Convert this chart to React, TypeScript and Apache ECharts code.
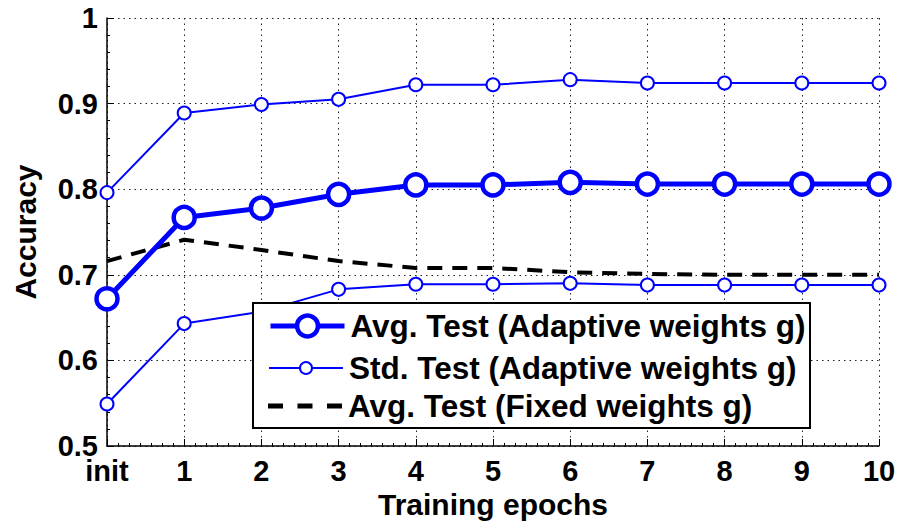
import React, { useEffect, useRef } from "react";
import * as echarts from "echarts";

const epochLabels = ["init", "1", "2", "3", "4", "5", "6", "7", "8", "9", "10"];
const avgAdaptive = [0.672, 0.767, 0.778, 0.794, 0.805, 0.805, 0.808, 0.806, 0.806, 0.806, 0.806];
const stdUpper = [0.796, 0.889, 0.899, 0.905, 0.922, 0.922, 0.928, 0.924, 0.924, 0.924, 0.924];
const stdLower = [0.549, 0.643, 0.657, 0.683, 0.689, 0.689, 0.690, 0.688, 0.688, 0.688, 0.688];
const avgFixed = [0.716, 0.741, 0.729, 0.716, 0.708, 0.708, 0.703, 0.701, 0.700, 0.700, 0.700];

const nameAvg = "Avg. Test (Adaptive weights g)";
const nameStd = "Std. Test (Adaptive weights g)";
const nameFixed = "Avg. Test (Fixed weights g)";

const FONT = "'Liberation Sans', Arial, Helvetica, sans-serif";
const BLUE = "#0000ff";

const toPairs = (arr: number[]) => arr.map((v, i) => [i, v]);

export default function App() {
  const ref = useRef<HTMLDivElement>(null);
  useEffect(() => {
    if (!ref.current) return;
    const chart = echarts.init(ref.current, undefined, { renderer: "svg" });
    const legendText = {
      color: "#000",
      fontFamily: FONT,
      fontWeight: "bold" as const,
      fontSize: 31.5,
      lineHeight: 30,
      padding: [0, 0, 0, 1],
    };
    chart.setOption({
      animation: false,
      backgroundColor: "#fff",
      grid: { left: 107, right: 22, top: 18, bottom: 83, containLabel: false },
      xAxis: {
        type: "value",
        min: 0,
        max: 10,
        interval: 1,
        name: "Training epochs",
        nameLocation: "middle",
        nameGap: 40,
        nameTextStyle: { color: "#000", fontFamily: FONT, fontWeight: "bold", fontSize: 30 },
        axisLine: { show: true, lineStyle: { color: "#000", width: 1.5 } },
        axisTick: { show: true, inside: true, length: 7, lineStyle: { color: "#000", width: 1 } },
        minorTick: { show: true, splitNumber: 7, length: 3, lineStyle: { color: "#000", width: 1 } },
        axisLabel: {
          color: "#000",
          fontFamily: FONT,
          fontWeight: "bold",
          fontSize: 29,
          margin: 10,
          formatter: (v: number) => epochLabels[Math.round(v)] ?? "",
        },
        splitLine: { show: true, lineStyle: { color: "#222", width: 1, type: [1.5, 4] } },
      },
      yAxis: {
        type: "value",
        min: 0.5,
        max: 1,
        interval: 0.1,
        name: "Accuracy",
        nameLocation: "middle",
        nameRotate: 90,
        nameGap: 67,
        nameTextStyle: { color: "#000", fontFamily: FONT, fontWeight: "bold", fontSize: 30 },
        axisLine: { show: true, lineStyle: { color: "#000", width: 1.5 } },
        axisTick: { show: true, inside: true, length: 7, lineStyle: { color: "#000", width: 1 } },
        minorTick: { show: true, splitNumber: 5, length: 3, lineStyle: { color: "#000", width: 1 } },
        axisLabel: {
          color: "#000",
          fontFamily: FONT,
          fontWeight: "bold",
          fontSize: 29,
          margin: 9,
          formatter: (v: number) => (Math.abs(v - 1) < 1e-9 ? "1" : v.toFixed(1)),
        },
        splitLine: { show: true, lineStyle: { color: "#222", width: 1, type: [1.5, 4] } },
      },
      legend: [
        {
          left: 268,
          top: 310,
          orient: "vertical",
          padding: 0,
          itemWidth: 74,
          itemHeight: 26,
          selectedMode: false,
          textStyle: legendText,
          data: [
            {
              name: nameAvg,
              itemStyle: { color: "#fff", borderColor: BLUE, borderWidth: 4.5 },
              lineStyle: { color: BLUE, width: 5 },
            },
          ],
        },
        {
          left: 268,
          top: 352,
          orient: "vertical",
          padding: 0,
          itemWidth: 74,
          itemHeight: 15,
          selectedMode: false,
          textStyle: legendText,
          data: [
            {
              name: nameStd,
              itemStyle: { color: "#fff", borderColor: BLUE, borderWidth: 2 },
              lineStyle: { color: BLUE, width: 2 },
            },
          ],
        },
        {
          left: 268,
          top: 390,
          orient: "vertical",
          padding: 0,
          itemWidth: 74,
          itemHeight: 5,
          selectedMode: false,
          symbolKeepAspect: false,
          textStyle: legendText,
          data: [
            {
              name: nameFixed,
              icon: "path://M0 0h15v5h-15z M29.5 0h15v5h-15z M59 0h15v5h-15z",
              itemStyle: { color: "#000", borderWidth: 0 },
            },
          ],
        },
      ],
      graphic: [
        {
          type: "rect",
          z: 3,
          shape: { x: 253, y: 303, width: 557, height: 125 },
          style: { fill: "#fff", stroke: "#000", lineWidth: 2 },
        },
      ],
      series: [
        {
          name: nameFixed,
          type: "line",
          data: toPairs(avgFixed),
          symbol: "none",
          lineStyle: { color: "#000", width: 4, type: [15, 10] },
          itemStyle: { color: "#000" },
          z: 2,
        },
        {
          name: nameStd,
          type: "line",
          data: toPairs(stdUpper),
          symbol: "circle",
          symbolSize: 13,
          lineStyle: { color: BLUE, width: 2 },
          itemStyle: { color: "#fff", borderColor: BLUE, borderWidth: 2 },
          z: 2,
        },
        {
          name: nameStd,
          type: "line",
          data: toPairs(stdLower),
          symbol: "circle",
          symbolSize: 13,
          lineStyle: { color: BLUE, width: 2 },
          itemStyle: { color: "#fff", borderColor: BLUE, borderWidth: 2 },
          z: 2,
        },
        {
          name: nameAvg,
          type: "line",
          data: toPairs(avgAdaptive),
          symbol: "circle",
          symbolSize: 21,
          lineStyle: { color: BLUE, width: 5 },
          itemStyle: { color: "#fff", borderColor: BLUE, borderWidth: 4.5 },
          z: 2,
        },
      ],
    });
    return () => chart.dispose();
  }, []);
  return (
    <div
      ref={ref}
      style={{ position: "fixed", left: 0, top: 0, width: 901, height: 529, background: "#fff" }}
    />
  );
}
